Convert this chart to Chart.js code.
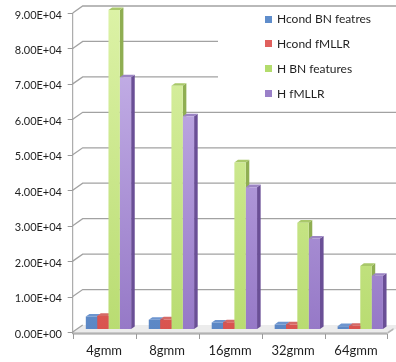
<!DOCTYPE html>
<html>
<head>
<meta charset="utf-8">
<script src="https://cdn.jsdelivr.net/npm/chart.js@4.4.1/dist/chart.umd.min.js"></script>
<style>
  html, body { margin: 0; padding: 0; background: #ffffff; }
  #wrap { width: 396px; height: 362px; }
</style>
</head>
<body>
<div id="wrap"><canvas id="c" width="396" height="362"></canvas></div>
<script>
// Model sizes on the x axis
const categories = ['4gmm', '8gmm', '16gmm', '32gmm', '64gmm'];

// Series values (one per model size)
const hcondBn     = [3500, 2600, 1800, 1300, 800];
const hcondFmllr  = [3700, 2700, 1900, 1300, 900];
const hBn         = [90000, 68600, 47000, 30000, 17800];
const hFmllr      = [71000, 60000, 40000, 25500, 15000];

const seriesNames = ['Hcond BN featres', 'Hcond fMLLR', 'H BN features', 'H fMLLR'];

// Value axis ticks
const yTicks = [0, 10000, 20000, 30000, 40000, 50000, 60000, 70000, 80000, 90000];

// Shading per series: [front top, front bottom, side, top, legend swatch]
const palette = [
  ['#8db3e2', '#5b87c5', '#3f6aa5', '#6d95cf', '#5f8dcb'],
  ['#f08a88', '#d9534f', '#a83a37', '#d56a67', '#e0605d'],
  ['#dcf2a6', '#b9dc72', '#8fae52', '#a9c86a', '#b3dc6c'],
  ['#cbb8ec', '#9679c7', '#6a4f96', '#9c85c4', '#9a80c8']
];

// Oblique projection offsets
const FRONT_DX = -4.3, FRONT_DY = 3;   // from bar plane to front of floor
const BACK_DX = 5.7, BACK_DY = -4;     // from bar plane to back wall
const SIDE_DX = 3.6, SIDE_DY = -2.6;   // depth of each column

const FONT = 'Lato';

function sci(v) {
  const s = v.toExponential(2);
  const [m, e] = s.split('e');
  const sign = e[0] === '-' ? '-' : '+';
  const d = e.replace(/[+-]/, '').padStart(2, '0');
  return m + 'E' + sign + d;
}

function frontGradient(ctx, idx) {
  const chart = ctx.chart;
  const area = chart.chartArea;
  if (!area) return palette[idx][1];
  const g = chart.ctx.createLinearGradient(0, area.top, 0, area.bottom);
  g.addColorStop(0, palette[idx][0]);
  g.addColorStop(1, palette[idx][1]);
  return g;
}

const seriesData = [hcondBn, hcondFmllr, hBn, hFmllr];

const datasets = seriesData.map((d, i) => ({
  label: seriesNames[i],
  data: d,
  backgroundColor: (ctx) => frontGradient(ctx, i),
  borderWidth: 0,
  barPercentage: 1.0,
  categoryPercentage: 0.72
}));

// Walls, floor, front axis and column depth faces
const stage = {
  id: 'stage',
  beforeDatasetsDraw(chart) {
    const ctx = chart.ctx;
    const y = chart.scales.y;
    const a = chart.chartArea;
    const fl = a.left + FRONT_DX, fr = a.right + FRONT_DX;
    ctx.save();

    // floor
    const fy = y.getPixelForValue(0);
    ctx.beginPath();
    ctx.moveTo(fl, fy + FRONT_DY);
    ctx.lineTo(a.left + BACK_DX, fy + BACK_DY);
    ctx.lineTo(a.right + BACK_DX + 10, fy + BACK_DY);
    ctx.lineTo(fr, fy + FRONT_DY);
    ctx.closePath();
    ctx.fillStyle = '#ececec';
    ctx.fill();
    ctx.fillStyle = '#c9c9c9';
    ctx.fillRect(fl, fy + FRONT_DY, fr - fl, 2);
    ctx.beginPath();
    ctx.moveTo(fr, fy + FRONT_DY + 2);
    ctx.lineTo(fr + 6, fy + FRONT_DY - 2);
    ctx.lineTo(fr + 6, fy + FRONT_DY - 4);
    ctx.lineTo(fr, fy + FRONT_DY);
    ctx.closePath();
    ctx.fillStyle = '#b5b5b5';
    ctx.fill();

    // gridlines across side wall and back wall
    ctx.strokeStyle = '#a2a2a2';
    ctx.lineWidth = 1.3;
    yTicks.forEach((v) => {
      const py = y.getPixelForValue(v);
      ctx.beginPath();
      ctx.moveTo(fl, py + FRONT_DY);
      ctx.lineTo(a.left + BACK_DX, py + BACK_DY);
      if (v > 0) ctx.lineTo(chart.width + 5, py + BACK_DY);
      ctx.stroke();
    });

    // front value axis with tick marks
    ctx.strokeStyle = '#9a9a9a';
    ctx.lineWidth = 1;
    ctx.beginPath();
    ctx.moveTo(fl, y.getPixelForValue(yTicks[yTicks.length - 1]) + FRONT_DY);
    ctx.lineTo(fl, fy + FRONT_DY + 2);
    yTicks.forEach((v) => {
      const py = Math.round(y.getPixelForValue(v) + FRONT_DY) + 0.5;
      ctx.moveTo(fl - 5, py);
      ctx.lineTo(fl, py);
    });
    // category axis edge and separators
    const by = fy + FRONT_DY + 2;
    ctx.moveTo(fl, by);
    ctx.lineTo(fr, by);
    const step = (a.right - a.left) / categories.length;
    for (let k = 0; k <= categories.length; k++) {
      const px = Math.round(fl + k * step) + 0.5;
      ctx.moveTo(px, by);
      ctx.lineTo(px, by + 5);
    }
    ctx.stroke();

    // legend panel sits over the back wall
    ctx.fillStyle = '#ffffff';
    ctx.fillRect(218, 10, chart.width - 218, 95);

    // column depth: side and top faces, covered later by neighbouring fronts
    chart.data.datasets.forEach((ds, idx) => {
      const pal = palette[idx];
      chart.getDatasetMeta(idx).data.forEach((bar) => {
        const p = bar.getProps(['x', 'y', 'base', 'width'], true);
        const l = p.x - p.width / 2, r = p.x + p.width / 2;
        ctx.beginPath();
        ctx.moveTo(r, p.y);
        ctx.lineTo(r + SIDE_DX, p.y + SIDE_DY);
        ctx.lineTo(r + SIDE_DX, p.base + SIDE_DY);
        ctx.lineTo(r, p.base);
        ctx.closePath();
        ctx.fillStyle = pal[2];
        ctx.fill();
        ctx.beginPath();
        ctx.moveTo(l, p.y);
        ctx.lineTo(l + SIDE_DX, p.y + SIDE_DY);
        ctx.lineTo(r + SIDE_DX, p.y + SIDE_DY);
        ctx.lineTo(r, p.y);
        ctx.closePath();
        ctx.fillStyle = pal[3];
        ctx.fill();
      });
    });
    ctx.restore();
  },
  afterDraw(chart) {
    const ctx = chart.ctx;
    ctx.save();
    ctx.font = '12px ' + FONT;
    ctx.textBaseline = 'middle';
    ctx.textAlign = 'left';
    chart.data.datasets.forEach((ds, i) => {
      const cy = 19 + i * 24.8;
      ctx.fillStyle = palette[i][4];
      ctx.fillRect(265, Math.round(cy - 3.5), 7, 7);
      ctx.fillStyle = '#1f1f1f';
      ctx.fillText(ds.label, 277, cy + 0.5);
    });
    ctx.restore();
  }
};

new Chart(document.getElementById('c'), {
  type: 'bar',
  data: { labels: categories, datasets },
  plugins: [stage],
  options: {
    responsive: false,
    devicePixelRatio: 1,
    animation: false,
    layout: { padding: { top: 10, right: 1, left: 0, bottom: 0 } },
    plugins: { legend: { display: false }, tooltip: { enabled: false } },
    scales: {
      x: {
        grid: { display: false, drawTicks: false },
        border: { display: false },
        afterFit: (s) => { s.height = 33; },
        ticks: {
          padding: 14,
          labelOffset: FRONT_DX,
          color: '#1f1f1f',
          font: { family: FONT, size: 13 }
        }
      },
      y: {
        min: 0,
        max: 90000,
        grid: { display: false, drawTicks: true, tickLength: 15 },
        border: { display: false },
        afterFit: (s) => { s.width = 77; },
        afterBuildTicks: (s) => { s.ticks = yTicks.map((v) => ({ value: v })); },
        ticks: {
          padding: 0,
          labelOffset: FRONT_DY + 2,
          color: '#1f1f1f',
          font: { family: FONT, size: 11 },
          callback: (v) => sci(v)
        }
      }
    }
  }
});
</script>
</body>
</html>
